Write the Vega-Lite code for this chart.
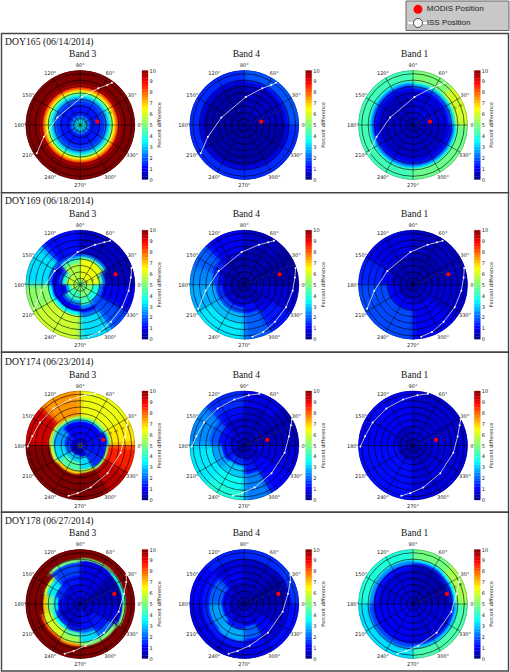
{"$schema":"https://vega.github.io/schema/vega-lite/v6.json","width":510,"height":672,"padding":0,"autosize":{"type":"fit","contains":"padding"},"background":"white","config":{"view":{"stroke":null}},
"params":[{"name":"CX","expr":"{'3':80.3,'4':244.3,'1':413}"},{"name":"CY","expr":"{'165':124,'169':283.7,'174':444.5,'178':603}"},{"name":"BX","expr":"{'3':142,'4':305.7,'1':474.3}"},{"name":"TX","expr":"{'3':82.7,'4':246.3,'1':414.7}"},{"name":"FT","expr":"{'165':32.5,'169':191.7,'174':351.3,'178':511.3}"},{"name":"FB","expr":"{'165':191.7,'169':351.3,'174':511.3,'178':670}"},{"name":"KR","expr":"54.5/85"}],
"encoding":{"x":{"field":"px","type":"quantitative","scale":{"domain":[0,510],"range":[0,510],"nice":false,"zero":false},"axis":null},"y":{"field":"py","type":"quantitative","scale":{"domain":[0,672],"range":[0,672],"nice":false,"zero":false},"axis":null}},
"datasets":{
"cbar":[{"v":0,"v2":0.25},{"v":0.25,"v2":0.5},{"v":0.5,"v2":0.75},{"v":0.75,"v2":1},{"v":1,"v2":1.25},{"v":1.25,"v2":1.5},{"v":1.5,"v2":1.75},{"v":1.75,"v2":2},{"v":2,"v2":2.25},{"v":2.25,"v2":2.5},{"v":2.5,"v2":2.75},{"v":2.75,"v2":3},{"v":3,"v2":3.25},{"v":3.25,"v2":3.5},{"v":3.5,"v2":3.75},{"v":3.75,"v2":4},{"v":4,"v2":4.25},{"v":4.25,"v2":4.5},{"v":4.5,"v2":4.75},{"v":4.75,"v2":5},{"v":5,"v2":5.25},{"v":5.25,"v2":5.5},{"v":5.5,"v2":5.75},{"v":5.75,"v2":6},{"v":6,"v2":6.25},{"v":6.25,"v2":6.5},{"v":6.5,"v2":6.75},{"v":6.75,"v2":7},{"v":7,"v2":7.25},{"v":7.25,"v2":7.5},{"v":7.5,"v2":7.75},{"v":7.75,"v2":8},{"v":8,"v2":8.25},{"v":8.25,"v2":8.5},{"v":8.5,"v2":8.75},{"v":8.75,"v2":9},{"v":9,"v2":9.25},{"v":9.25,"v2":9.5},{"v":9.5,"v2":9.75},{"v":9.75,"v2":10}],
"iss":[
{"d":165,"t":1,"i":1,"a":213,"r":81},{"d":165,"t":1,"i":2,"a":198,"r":59.7},{"d":165,"t":1,"i":3,"a":162,"r":37.6},{"d":165,"t":1,"i":4,"a":87,"r":43.7},{"d":165,"t":1,"i":5,"a":63.9,"r":63.7},{"d":165,"t":1,"i":6,"a":56,"r":75.3},{"d":165,"t":1,"i":7,"a":53.2,"r":82.4},
{"d":169,"t":1,"i":1,"a":207.6,"r":80.9},{"d":169,"t":1,"i":2,"a":188.8,"r":61},{"d":169,"t":1,"i":3,"a":152,"r":45.3},{"d":169,"t":1,"i":4,"a":94.7,"r":51},{"d":169,"t":1,"i":5,"a":69.9,"r":66.4},{"d":169,"t":1,"i":6,"a":60.5,"r":75.9},{"d":169,"t":1,"i":7,"a":56,"r":82.7},
{"d":169,"t":2,"i":1,"a":18,"r":84},{"d":169,"t":2,"i":2,"a":8.2,"r":79.8},{"d":169,"t":2,"i":3,"a":352.9,"r":76},{"d":169,"t":2,"i":4,"a":331.5,"r":74},{"d":169,"t":2,"i":5,"a":309.7,"r":75},{"d":169,"t":2,"i":6,"a":291.9,"r":79.5},{"d":169,"t":2,"i":7,"a":279,"r":82},
{"d":174,"t":1,"i":1,"a":181,"r":82},{"d":174,"t":1,"i":2,"a":169,"r":76.2},{"d":174,"t":1,"i":3,"a":150.3,"r":72.4},{"d":174,"t":1,"i":4,"a":125.8,"r":71.1},{"d":174,"t":1,"i":5,"a":102.3,"r":73.4},{"d":174,"t":1,"i":6,"a":85,"r":78.8},{"d":174,"t":1,"i":7,"a":73.8,"r":83.9},
{"d":174,"t":2,"i":1,"a":256.9,"r":80.6},{"d":174,"t":2,"i":2,"a":266.8,"r":74.4},{"d":174,"t":2,"i":3,"a":283.8,"r":67.4},{"d":174,"t":2,"i":4,"a":314.6,"r":60.6},{"d":174,"t":2,"i":5,"a":349.7,"r":63.9},{"d":174,"t":2,"i":6,"a":11.4,"r":71},{"d":174,"t":2,"i":7,"a":23.5,"r":79.3},{"d":174,"t":2,"i":8,"a":28.9,"r":85},
{"d":178,"t":1,"i":1,"a":32.4,"r":85},{"d":178,"t":1,"i":2,"a":25.6,"r":79.5},{"d":178,"t":1,"i":3,"a":13.3,"r":70},{"d":178,"t":1,"i":4,"a":348.7,"r":61},{"d":178,"t":1,"i":5,"a":309.5,"r":58},{"d":178,"t":1,"i":6,"a":277.3,"r":65.5},{"d":178,"t":1,"i":7,"a":261.9,"r":74},{"d":178,"t":1,"i":8,"a":252.5,"r":81.2}],
"modis":[{"d":165,"a":11,"r":27},{"d":169,"a":16.3,"r":57.4},{"d":174,"a":13.9,"r":37},{"d":178,"a":16.4,"r":55.3}],
"heat":[
{"d":165,"b":3,"a":0,"a2":360,"r":0,"r2":6,"v":3.7},{"d":165,"b":3,"a":0,"a2":360,"r":6,"r2":10,"v":3},{"d":165,"b":3,"a":0,"a2":360,"r":10,"r2":15,"v":2.2},{"d":165,"b":3,"a":0,"a2":360,"r":15,"r2":32,"v":1.3},{"d":165,"b":3,"a":0,"a2":360,"r":32,"r2":38,"v":1.6},{"d":165,"b":3,"a":0,"a2":360,"r":38,"r2":42,"v":2.2},{"d":165,"b":3,"a":0,"a2":360,"r":42,"r2":45,"v":3},{"d":165,"b":3,"a":0,"a2":360,"r":45,"r2":48,"v":4},{"d":165,"b":3,"a":0,"a2":360,"r":48,"r2":51,"v":5},{"d":165,"b":3,"a":0,"a2":360,"r":51,"r2":54,"v":6.3},{"d":165,"b":3,"a":0,"a2":360,"r":54,"r2":57,"v":7.5},{"d":165,"b":3,"a":0,"a2":360,"r":57,"r2":60,"v":8.5},{"d":165,"b":3,"a":0,"a2":360,"r":60,"r2":63,"v":9.5},{"d":165,"b":3,"a":0,"a2":360,"r":63,"r2":85,"v":10},
{"d":165,"b":4,"a":0,"a2":90,"r":0,"r2":62,"v":0.55},{"d":165,"b":4,"a":0,"a2":90,"r":62,"r2":66,"v":0.8},{"d":165,"b":4,"a":0,"a2":90,"r":66,"r2":70,"v":1.3},{"d":165,"b":4,"a":0,"a2":90,"r":70,"r2":85,"v":1.9},{"d":165,"b":4,"a":90,"a2":360,"r":0,"r2":60,"v":0.35},{"d":165,"b":4,"a":90,"a2":360,"r":60,"r2":65,"v":0.5},{"d":165,"b":4,"a":90,"a2":360,"r":65,"r2":70,"v":0.9},{"d":165,"b":4,"a":90,"a2":360,"r":70,"r2":85,"v":1.5},{"d":165,"b":4,"a":0,"a2":360,"r":0,"r2":6,"v":1},
{"d":165,"b":1,"a":0,"a2":45,"r":0,"r2":50,"v":0.8},{"d":165,"b":1,"a":0,"a2":45,"r":50,"r2":56,"v":1.1},{"d":165,"b":1,"a":0,"a2":45,"r":56,"r2":60,"v":1.7},{"d":165,"b":1,"a":0,"a2":45,"r":60,"r2":64,"v":2.8},{"d":165,"b":1,"a":0,"a2":45,"r":64,"r2":67,"v":4},{"d":165,"b":1,"a":0,"a2":45,"r":67,"r2":85,"v":6},
{"d":165,"b":1,"a":45,"a2":90,"r":0,"r2":50,"v":0.8},{"d":165,"b":1,"a":45,"a2":90,"r":50,"r2":56,"v":1.1},{"d":165,"b":1,"a":45,"a2":90,"r":56,"r2":60,"v":1.7},{"d":165,"b":1,"a":45,"a2":90,"r":60,"r2":64,"v":2.8},{"d":165,"b":1,"a":45,"a2":90,"r":64,"r2":67,"v":4},{"d":165,"b":1,"a":45,"a2":90,"r":67,"r2":85,"v":5},
{"d":165,"b":1,"a":90,"a2":270,"r":0,"r2":50,"v":0.6},{"d":165,"b":1,"a":90,"a2":270,"r":50,"r2":58,"v":0.9},{"d":165,"b":1,"a":90,"a2":270,"r":58,"r2":62,"v":1.4},{"d":165,"b":1,"a":90,"a2":270,"r":62,"r2":65,"v":2.2},{"d":165,"b":1,"a":90,"a2":270,"r":65,"r2":68,"v":3.2},{"d":165,"b":1,"a":90,"a2":270,"r":68,"r2":85,"v":4.3},
{"d":165,"b":1,"a":270,"a2":360,"r":0,"r2":50,"v":0.6},{"d":165,"b":1,"a":270,"a2":360,"r":50,"r2":58,"v":0.9},{"d":165,"b":1,"a":270,"a2":360,"r":58,"r2":62,"v":1.4},{"d":165,"b":1,"a":270,"a2":360,"r":62,"r2":65,"v":2.2},{"d":165,"b":1,"a":270,"a2":360,"r":65,"r2":68,"v":3.4},{"d":165,"b":1,"a":270,"a2":360,"r":68,"r2":85,"v":4.8},
{"d":169,"b":3,"a":0,"a2":30,"r":0,"r2":8,"v":4.5},{"d":169,"b":3,"a":0,"a2":30,"r":8,"r2":30,"v":6.2},{"d":169,"b":3,"a":0,"a2":30,"r":30,"r2":35,"v":4.5},{"d":169,"b":3,"a":0,"a2":30,"r":35,"r2":40,"v":2.2},{"d":169,"b":3,"a":0,"a2":30,"r":40,"r2":85,"v":0.5},
{"d":169,"b":3,"a":30,"a2":90,"r":0,"r2":8,"v":5},{"d":169,"b":3,"a":30,"a2":90,"r":8,"r2":40,"v":6.3},{"d":169,"b":3,"a":30,"a2":90,"r":40,"r2":44,"v":4.5},{"d":169,"b":3,"a":30,"a2":90,"r":44,"r2":48,"v":2.2},{"d":169,"b":3,"a":30,"a2":90,"r":48,"r2":85,"v":0.6},
{"d":169,"b":3,"a":90,"a2":135,"r":0,"r2":8,"v":5},{"d":169,"b":3,"a":90,"a2":135,"r":8,"r2":34,"v":5.6},{"d":169,"b":3,"a":90,"a2":135,"r":34,"r2":40,"v":4.5},{"d":169,"b":3,"a":90,"a2":135,"r":40,"r2":45,"v":2.8},{"d":169,"b":3,"a":90,"a2":135,"r":45,"r2":50,"v":1.5},{"d":169,"b":3,"a":90,"a2":135,"r":50,"r2":85,"v":1.2},
{"d":169,"b":3,"a":135,"a2":180,"r":0,"r2":6,"v":4.5},{"d":169,"b":3,"a":135,"a2":180,"r":6,"r2":22,"v":5.8},{"d":169,"b":3,"a":135,"a2":180,"r":22,"r2":28,"v":4},{"d":169,"b":3,"a":135,"a2":180,"r":28,"r2":34,"v":1.8},{"d":169,"b":3,"a":135,"a2":180,"r":34,"r2":45,"v":0.9},{"d":169,"b":3,"a":135,"a2":180,"r":45,"r2":50,"v":2},{"d":169,"b":3,"a":135,"a2":180,"r":50,"r2":85,"v":3.2},
{"d":169,"b":3,"a":180,"a2":210,"r":0,"r2":15,"v":5.6},{"d":169,"b":3,"a":180,"a2":210,"r":15,"r2":22,"v":3.5},{"d":169,"b":3,"a":180,"a2":210,"r":22,"r2":38,"v":1},{"d":169,"b":3,"a":180,"a2":210,"r":38,"r2":44,"v":1.2},{"d":169,"b":3,"a":180,"a2":210,"r":44,"r2":50,"v":3.5},{"d":169,"b":3,"a":180,"a2":210,"r":50,"r2":85,"v":5.2},
{"d":169,"b":3,"a":210,"a2":270,"r":0,"r2":12,"v":5},{"d":169,"b":3,"a":210,"a2":270,"r":12,"r2":25,"v":4.2},{"d":169,"b":3,"a":210,"a2":270,"r":25,"r2":32,"v":2.5},{"d":169,"b":3,"a":210,"a2":270,"r":32,"r2":42,"v":1},{"d":169,"b":3,"a":210,"a2":270,"r":42,"r2":48,"v":3.5},{"d":169,"b":3,"a":210,"a2":270,"r":48,"r2":85,"v":5.9},
{"d":169,"b":3,"a":270,"a2":305,"r":0,"r2":20,"v":5},{"d":169,"b":3,"a":270,"a2":305,"r":20,"r2":32,"v":4.3},{"d":169,"b":3,"a":270,"a2":305,"r":32,"r2":38,"v":2.5},{"d":169,"b":3,"a":270,"a2":305,"r":38,"r2":44,"v":1.2},{"d":169,"b":3,"a":270,"a2":305,"r":44,"r2":50,"v":2.2},{"d":169,"b":3,"a":270,"a2":305,"r":50,"r2":85,"v":3.2},
{"d":169,"b":3,"a":305,"a2":330,"r":0,"r2":20,"v":5},{"d":169,"b":3,"a":305,"a2":330,"r":20,"r2":30,"v":3.8},{"d":169,"b":3,"a":305,"a2":330,"r":30,"r2":36,"v":2},{"d":169,"b":3,"a":305,"a2":330,"r":36,"r2":85,"v":1.8},
{"d":169,"b":3,"a":330,"a2":360,"r":0,"r2":20,"v":5},{"d":169,"b":3,"a":330,"a2":360,"r":20,"r2":30,"v":3.8},{"d":169,"b":3,"a":330,"a2":360,"r":30,"r2":36,"v":2},{"d":169,"b":3,"a":330,"a2":360,"r":36,"r2":85,"v":1},
{"d":169,"b":4,"a":0,"a2":45,"r":0,"r2":85,"v":0.35},{"d":169,"b":4,"a":45,"a2":90,"r":0,"r2":60,"v":0.4},{"d":169,"b":4,"a":45,"a2":90,"r":60,"r2":85,"v":0.6},{"d":169,"b":4,"a":90,"a2":135,"r":0,"r2":45,"v":0.4},{"d":169,"b":4,"a":90,"a2":135,"r":45,"r2":55,"v":0.8},{"d":169,"b":4,"a":90,"a2":135,"r":55,"r2":85,"v":1},
{"d":169,"b":4,"a":135,"a2":160,"r":0,"r2":35,"v":0.4},{"d":169,"b":4,"a":135,"a2":160,"r":35,"r2":45,"v":0.8},{"d":169,"b":4,"a":135,"a2":160,"r":45,"r2":55,"v":1.5},{"d":169,"b":4,"a":135,"a2":160,"r":55,"r2":85,"v":2},
{"d":169,"b":4,"a":160,"a2":180,"r":0,"r2":30,"v":0.4},{"d":169,"b":4,"a":160,"a2":180,"r":30,"r2":40,"v":0.8},{"d":169,"b":4,"a":160,"a2":180,"r":40,"r2":50,"v":1.6},{"d":169,"b":4,"a":160,"a2":180,"r":50,"r2":85,"v":2.4},
{"d":169,"b":4,"a":180,"a2":210,"r":0,"r2":25,"v":0.5},{"d":169,"b":4,"a":180,"a2":210,"r":25,"r2":35,"v":0.9},{"d":169,"b":4,"a":180,"a2":210,"r":35,"r2":45,"v":1.6},{"d":169,"b":4,"a":180,"a2":210,"r":45,"r2":85,"v":2.7},
{"d":169,"b":4,"a":210,"a2":270,"r":0,"r2":25,"v":0.5},{"d":169,"b":4,"a":210,"a2":270,"r":25,"r2":35,"v":0.9},{"d":169,"b":4,"a":210,"a2":270,"r":35,"r2":45,"v":1.8},{"d":169,"b":4,"a":210,"a2":270,"r":45,"r2":60,"v":2.9},{"d":169,"b":4,"a":210,"a2":270,"r":60,"r2":85,"v":3.3},
{"d":169,"b":4,"a":270,"a2":300,"r":0,"r2":30,"v":0.6},{"d":169,"b":4,"a":270,"a2":300,"r":30,"r2":45,"v":1.2},{"d":169,"b":4,"a":270,"a2":300,"r":45,"r2":85,"v":2},{"d":169,"b":4,"a":300,"a2":330,"r":0,"r2":35,"v":0.5},{"d":169,"b":4,"a":300,"a2":330,"r":35,"r2":50,"v":0.9},{"d":169,"b":4,"a":300,"a2":330,"r":50,"r2":85,"v":1.3},{"d":169,"b":4,"a":330,"a2":360,"r":0,"r2":85,"v":0.7},
{"d":169,"b":1,"a":0,"a2":90,"r":0,"r2":50,"v":0.4},{"d":169,"b":1,"a":0,"a2":90,"r":50,"r2":85,"v":0.55},{"d":169,"b":1,"a":90,"a2":150,"r":0,"r2":45,"v":0.5},{"d":169,"b":1,"a":90,"a2":150,"r":45,"r2":85,"v":0.9},{"d":169,"b":1,"a":150,"a2":180,"r":0,"r2":35,"v":0.5},{"d":169,"b":1,"a":150,"a2":180,"r":35,"r2":50,"v":1},{"d":169,"b":1,"a":150,"a2":180,"r":50,"r2":85,"v":1.4},{"d":169,"b":1,"a":180,"a2":270,"r":0,"r2":25,"v":0.6},{"d":169,"b":1,"a":180,"a2":270,"r":25,"r2":40,"v":1.1},{"d":169,"b":1,"a":180,"a2":270,"r":40,"r2":85,"v":1.8},{"d":169,"b":1,"a":270,"a2":320,"r":0,"r2":30,"v":0.6},{"d":169,"b":1,"a":270,"a2":320,"r":30,"r2":85,"v":1},{"d":169,"b":1,"a":320,"a2":360,"r":0,"r2":85,"v":0.7},
{"d":174,"b":3,"a":0,"a2":30,"r":0,"r2":12,"v":1},{"d":174,"b":3,"a":0,"a2":30,"r":12,"r2":42,"v":1.2},{"d":174,"b":3,"a":0,"a2":30,"r":42,"r2":45,"v":3},{"d":174,"b":3,"a":0,"a2":30,"r":45,"r2":48,"v":5.5},{"d":174,"b":3,"a":0,"a2":30,"r":48,"r2":85,"v":6.7},
{"d":174,"b":3,"a":30,"a2":90,"r":0,"r2":12,"v":1},{"d":174,"b":3,"a":30,"a2":90,"r":12,"r2":38,"v":1.1},{"d":174,"b":3,"a":30,"a2":90,"r":38,"r2":41,"v":3},{"d":174,"b":3,"a":30,"a2":90,"r":41,"r2":45,"v":5},{"d":174,"b":3,"a":30,"a2":90,"r":45,"r2":85,"v":6.3},
{"d":174,"b":3,"a":90,"a2":135,"r":0,"r2":38,"v":1.1},{"d":174,"b":3,"a":90,"a2":135,"r":38,"r2":42,"v":3},{"d":174,"b":3,"a":90,"a2":135,"r":42,"r2":46,"v":5.5},{"d":174,"b":3,"a":90,"a2":135,"r":46,"r2":85,"v":7.5},
{"d":174,"b":3,"a":135,"a2":180,"r":0,"r2":15,"v":0.9},{"d":174,"b":3,"a":135,"a2":180,"r":15,"r2":25,"v":1.5},{"d":174,"b":3,"a":135,"a2":180,"r":25,"r2":42,"v":2.6},{"d":174,"b":3,"a":135,"a2":180,"r":42,"r2":46,"v":4.5},{"d":174,"b":3,"a":135,"a2":180,"r":46,"r2":50,"v":7},{"d":174,"b":3,"a":135,"a2":180,"r":50,"r2":85,"v":9.3},
{"d":174,"b":3,"a":180,"a2":215,"r":0,"r2":16,"v":0.7},{"d":174,"b":3,"a":180,"a2":215,"r":16,"r2":24,"v":2},{"d":174,"b":3,"a":180,"a2":215,"r":24,"r2":42,"v":3.2},{"d":174,"b":3,"a":180,"a2":215,"r":42,"r2":47,"v":6},{"d":174,"b":3,"a":180,"a2":215,"r":47,"r2":85,"v":10},
{"d":174,"b":3,"a":215,"a2":270,"r":0,"r2":16,"v":0.7},{"d":174,"b":3,"a":215,"a2":270,"r":16,"r2":26,"v":3},{"d":174,"b":3,"a":215,"a2":270,"r":26,"r2":40,"v":4.5},{"d":174,"b":3,"a":215,"a2":270,"r":40,"r2":45,"v":7},{"d":174,"b":3,"a":215,"a2":270,"r":45,"r2":85,"v":10},
{"d":174,"b":3,"a":270,"a2":300,"r":0,"r2":18,"v":0.9},{"d":174,"b":3,"a":270,"a2":300,"r":18,"r2":38,"v":3.2},{"d":174,"b":3,"a":270,"a2":300,"r":38,"r2":43,"v":6},{"d":174,"b":3,"a":270,"a2":300,"r":43,"r2":85,"v":10},
{"d":174,"b":3,"a":300,"a2":330,"r":0,"r2":40,"v":1.5},{"d":174,"b":3,"a":300,"a2":330,"r":40,"r2":44,"v":5},{"d":174,"b":3,"a":300,"a2":330,"r":44,"r2":85,"v":9.5},{"d":174,"b":3,"a":330,"a2":360,"r":0,"r2":40,"v":1.3},{"d":174,"b":3,"a":330,"a2":360,"r":40,"r2":44,"v":5},{"d":174,"b":3,"a":330,"a2":360,"r":44,"r2":85,"v":8.6},{"d":174,"b":3,"a":0,"a2":360,"r":0,"r2":3,"v":6},
{"d":174,"b":4,"a":0,"a2":45,"r":0,"r2":85,"v":0.5},{"d":174,"b":4,"a":45,"a2":90,"r":0,"r2":60,"v":0.6},{"d":174,"b":4,"a":45,"a2":90,"r":60,"r2":85,"v":0.9},{"d":174,"b":4,"a":90,"a2":135,"r":0,"r2":45,"v":0.7},{"d":174,"b":4,"a":90,"a2":135,"r":45,"r2":60,"v":1.2},{"d":174,"b":4,"a":90,"a2":135,"r":60,"r2":85,"v":1.5},
{"d":174,"b":4,"a":135,"a2":180,"r":0,"r2":25,"v":0.7},{"d":174,"b":4,"a":135,"a2":180,"r":25,"r2":40,"v":1.2},{"d":174,"b":4,"a":135,"a2":180,"r":40,"r2":55,"v":1.9},{"d":174,"b":4,"a":135,"a2":180,"r":55,"r2":85,"v":2.4},
{"d":174,"b":4,"a":180,"a2":225,"r":0,"r2":20,"v":0.6},{"d":174,"b":4,"a":180,"a2":225,"r":20,"r2":35,"v":1.3},{"d":174,"b":4,"a":180,"a2":225,"r":35,"r2":50,"v":2.6},{"d":174,"b":4,"a":180,"a2":225,"r":50,"r2":85,"v":3.3},
{"d":174,"b":4,"a":225,"a2":270,"r":0,"r2":20,"v":0.6},{"d":174,"b":4,"a":225,"a2":270,"r":20,"r2":32,"v":1.5},{"d":174,"b":4,"a":225,"a2":270,"r":32,"r2":50,"v":3},{"d":174,"b":4,"a":225,"a2":270,"r":50,"r2":70,"v":3.6},{"d":174,"b":4,"a":225,"a2":270,"r":70,"r2":85,"v":3.9},
{"d":174,"b":4,"a":270,"a2":300,"r":0,"r2":25,"v":0.7},{"d":174,"b":4,"a":270,"a2":300,"r":25,"r2":45,"v":1.3},{"d":174,"b":4,"a":270,"a2":300,"r":45,"r2":85,"v":2.3},{"d":174,"b":4,"a":300,"a2":330,"r":0,"r2":30,"v":0.7},{"d":174,"b":4,"a":300,"a2":330,"r":30,"r2":85,"v":1.1},{"d":174,"b":4,"a":330,"a2":360,"r":0,"r2":85,"v":0.8},
{"d":174,"b":1,"a":0,"a2":90,"r":0,"r2":85,"v":0.7},{"d":174,"b":1,"a":90,"a2":180,"r":0,"r2":30,"v":0.6},{"d":174,"b":1,"a":90,"a2":180,"r":30,"r2":85,"v":1},{"d":174,"b":1,"a":180,"a2":270,"r":0,"r2":25,"v":0.6},{"d":174,"b":1,"a":180,"a2":270,"r":25,"r2":85,"v":1.2},{"d":174,"b":1,"a":270,"a2":360,"r":0,"r2":30,"v":0.6},{"d":174,"b":1,"a":270,"a2":360,"r":30,"r2":85,"v":0.8},
{"d":178,"b":3,"a":0,"a2":45,"r":0,"r2":66,"v":0.45},{"d":178,"b":3,"a":0,"a2":45,"r":66,"r2":71,"v":4},{"d":178,"b":3,"a":0,"a2":45,"r":71,"r2":85,"v":10},
{"d":178,"b":3,"a":45,"a2":90,"r":0,"r2":68,"v":0.9},{"d":178,"b":3,"a":45,"a2":90,"r":68,"r2":72,"v":5},{"d":178,"b":3,"a":45,"a2":90,"r":72,"r2":85,"v":10},
{"d":178,"b":3,"a":90,"a2":135,"r":0,"r2":30,"v":0.9},{"d":178,"b":3,"a":90,"a2":135,"r":30,"r2":45,"v":1.3},{"d":178,"b":3,"a":90,"a2":135,"r":45,"r2":65,"v":1.7},{"d":178,"b":3,"a":90,"a2":135,"r":65,"r2":70,"v":5},{"d":178,"b":3,"a":90,"a2":135,"r":70,"r2":85,"v":10},
{"d":178,"b":3,"a":135,"a2":165,"r":0,"r2":28,"v":0.8},{"d":178,"b":3,"a":135,"a2":165,"r":28,"r2":40,"v":1.5},{"d":178,"b":3,"a":135,"a2":165,"r":40,"r2":55,"v":3.3},{"d":178,"b":3,"a":135,"a2":165,"r":55,"r2":60,"v":6},{"d":178,"b":3,"a":135,"a2":165,"r":60,"r2":85,"v":10},
{"d":178,"b":3,"a":165,"a2":195,"r":0,"r2":28,"v":0.8},{"d":178,"b":3,"a":165,"a2":195,"r":28,"r2":35,"v":1.2},{"d":178,"b":3,"a":165,"a2":195,"r":35,"r2":42,"v":3.2},{"d":178,"b":3,"a":165,"a2":195,"r":42,"r2":52,"v":4.8},{"d":178,"b":3,"a":165,"a2":195,"r":52,"r2":58,"v":7},{"d":178,"b":3,"a":165,"a2":195,"r":58,"r2":85,"v":10},
{"d":178,"b":3,"a":195,"a2":240,"r":0,"r2":35,"v":0.7},{"d":178,"b":3,"a":195,"a2":240,"r":35,"r2":40,"v":1.5},{"d":178,"b":3,"a":195,"a2":240,"r":40,"r2":46,"v":3.5},{"d":178,"b":3,"a":195,"a2":240,"r":46,"r2":60,"v":6},{"d":178,"b":3,"a":195,"a2":240,"r":60,"r2":64,"v":8},{"d":178,"b":3,"a":195,"a2":240,"r":64,"r2":85,"v":10},
{"d":178,"b":3,"a":240,"a2":270,"r":0,"r2":38,"v":0.7},{"d":178,"b":3,"a":240,"a2":270,"r":38,"r2":44,"v":1.5},{"d":178,"b":3,"a":240,"a2":270,"r":44,"r2":52,"v":4.5},{"d":178,"b":3,"a":240,"a2":270,"r":52,"r2":62,"v":5.5},{"d":178,"b":3,"a":240,"a2":270,"r":62,"r2":66,"v":7.5},{"d":178,"b":3,"a":240,"a2":270,"r":66,"r2":85,"v":10},
{"d":178,"b":3,"a":270,"a2":300,"r":0,"r2":40,"v":1.2},{"d":178,"b":3,"a":270,"a2":300,"r":40,"r2":46,"v":2},{"d":178,"b":3,"a":270,"a2":300,"r":46,"r2":60,"v":3.2},{"d":178,"b":3,"a":270,"a2":300,"r":60,"r2":66,"v":5},{"d":178,"b":3,"a":270,"a2":300,"r":66,"r2":85,"v":10},
{"d":178,"b":3,"a":300,"a2":330,"r":0,"r2":25,"v":0.7},{"d":178,"b":3,"a":300,"a2":330,"r":25,"r2":50,"v":1.3},{"d":178,"b":3,"a":300,"a2":330,"r":50,"r2":60,"v":2},{"d":178,"b":3,"a":300,"a2":330,"r":60,"r2":66,"v":5},{"d":178,"b":3,"a":300,"a2":330,"r":66,"r2":85,"v":10},
{"d":178,"b":3,"a":330,"a2":360,"r":0,"r2":66,"v":0.8},{"d":178,"b":3,"a":330,"a2":360,"r":66,"r2":71,"v":5},{"d":178,"b":3,"a":330,"a2":360,"r":71,"r2":85,"v":10},
{"d":178,"b":4,"a":0,"a2":45,"r":0,"r2":68,"v":0.35},{"d":178,"b":4,"a":0,"a2":45,"r":68,"r2":73,"v":0.9},{"d":178,"b":4,"a":0,"a2":45,"r":73,"r2":85,"v":1.6},
{"d":178,"b":4,"a":45,"a2":90,"r":0,"r2":70,"v":0.6},{"d":178,"b":4,"a":45,"a2":90,"r":70,"r2":85,"v":1.5},
{"d":178,"b":4,"a":90,"a2":135,"r":0,"r2":35,"v":0.6},{"d":178,"b":4,"a":90,"a2":135,"r":35,"r2":55,"v":1},{"d":178,"b":4,"a":90,"a2":135,"r":55,"r2":70,"v":0.8},{"d":178,"b":4,"a":90,"a2":135,"r":70,"r2":85,"v":1.4},
{"d":178,"b":4,"a":135,"a2":180,"r":0,"r2":25,"v":0.6},{"d":178,"b":4,"a":135,"a2":180,"r":25,"r2":35,"v":1},{"d":178,"b":4,"a":135,"a2":180,"r":35,"r2":55,"v":2},{"d":178,"b":4,"a":135,"a2":180,"r":55,"r2":65,"v":1.3},{"d":178,"b":4,"a":135,"a2":180,"r":65,"r2":85,"v":1.1},
{"d":178,"b":4,"a":180,"a2":225,"r":0,"r2":25,"v":0.6},{"d":178,"b":4,"a":180,"a2":225,"r":25,"r2":35,"v":1.2},{"d":178,"b":4,"a":180,"a2":225,"r":35,"r2":55,"v":2.6},{"d":178,"b":4,"a":180,"a2":225,"r":55,"r2":65,"v":1.4},{"d":178,"b":4,"a":180,"a2":225,"r":65,"r2":85,"v":0.9},
{"d":178,"b":4,"a":225,"a2":270,"r":0,"r2":30,"v":0.7},{"d":178,"b":4,"a":225,"a2":270,"r":30,"r2":40,"v":1.3},{"d":178,"b":4,"a":225,"a2":270,"r":40,"r2":58,"v":2.7},{"d":178,"b":4,"a":225,"a2":270,"r":58,"r2":68,"v":1.3},{"d":178,"b":4,"a":225,"a2":270,"r":68,"r2":85,"v":0.8},
{"d":178,"b":4,"a":270,"a2":300,"r":0,"r2":35,"v":0.9},{"d":178,"b":4,"a":270,"a2":300,"r":35,"r2":55,"v":2},{"d":178,"b":4,"a":270,"a2":300,"r":55,"r2":68,"v":1.2},{"d":178,"b":4,"a":270,"a2":300,"r":68,"r2":85,"v":0.9},
{"d":178,"b":4,"a":300,"a2":330,"r":0,"r2":30,"v":0.7},{"d":178,"b":4,"a":300,"a2":330,"r":30,"r2":55,"v":1.1},{"d":178,"b":4,"a":300,"a2":330,"r":55,"r2":70,"v":0.7},{"d":178,"b":4,"a":300,"a2":330,"r":70,"r2":85,"v":1.2},
{"d":178,"b":4,"a":330,"a2":360,"r":0,"r2":68,"v":0.6},{"d":178,"b":4,"a":330,"a2":360,"r":68,"r2":85,"v":1.2},
{"d":178,"b":1,"a":0,"a2":45,"r":0,"r2":58,"v":0.4},{"d":178,"b":1,"a":0,"a2":45,"r":58,"r2":64,"v":1.5},{"d":178,"b":1,"a":0,"a2":45,"r":64,"r2":68,"v":3.5},{"d":178,"b":1,"a":0,"a2":45,"r":68,"r2":85,"v":5.5},
{"d":178,"b":1,"a":45,"a2":90,"r":0,"r2":60,"v":0.5},{"d":178,"b":1,"a":45,"a2":90,"r":60,"r2":65,"v":1.5},{"d":178,"b":1,"a":45,"a2":90,"r":65,"r2":69,"v":3.3},{"d":178,"b":1,"a":45,"a2":90,"r":69,"r2":85,"v":4.9},
{"d":178,"b":1,"a":90,"a2":180,"r":0,"r2":55,"v":0.8},{"d":178,"b":1,"a":90,"a2":180,"r":55,"r2":62,"v":1.2},{"d":178,"b":1,"a":90,"a2":180,"r":62,"r2":68,"v":2.5},{"d":178,"b":1,"a":90,"a2":180,"r":68,"r2":85,"v":3.9},
{"d":178,"b":1,"a":180,"a2":270,"r":0,"r2":62,"v":1},{"d":178,"b":1,"a":180,"a2":270,"r":62,"r2":68,"v":1.8},{"d":178,"b":1,"a":180,"a2":270,"r":68,"r2":72,"v":2.7},{"d":178,"b":1,"a":180,"a2":270,"r":72,"r2":85,"v":3.2},
{"d":178,"b":1,"a":270,"a2":360,"r":0,"r2":60,"v":0.8},{"d":178,"b":1,"a":270,"a2":360,"r":60,"r2":65,"v":1.5},{"d":178,"b":1,"a":270,"a2":360,"r":65,"r2":70,"v":3},{"d":178,"b":1,"a":270,"a2":360,"r":70,"r2":85,"v":4.4}
]},
"layer":[
{"data":{"values":[{"d":165},{"d":169},{"d":174},{"d":178}]},"transform":[{"calculate":"1.5","as":"px"},{"calculate":"508.5","as":"px2"},{"calculate":"FT[datum.d]","as":"py"},{"calculate":"FB[datum.d]","as":"py2"}],"mark":{"type":"rect","fill":"white","stroke":"#444444","strokeWidth":1.4},"encoding":{"x2":{"field":"px2"},"y2":{"field":"py2"}}},
{"data":{"name":"heat"},"transform":[{"calculate":"CX[datum.b]","as":"px"},{"calculate":"CY[datum.d]","as":"py"}],"mark":{"type":"arc","strokeWidth":0.3},"encoding":{"theta":{"field":"a","type":"quantitative","stack":null,"scale":{"domain":[0,360],"range":[1.5708,-4.7124]}},"theta2":{"field":"a2"},"radius":{"field":"r2","type":"quantitative","scale":{"type":"linear","domain":[0,85],"range":[0,54.5]}},"radius2":{"field":"r"},"fill":{"field":"v","type":"quantitative","legend":null,"scale":{"domain":[0,1.1,3.5,5,6.5,8.9,10],"range":["#00007f","#0000ff","#00ffff","#7dff7a","#ffff00","#ff0000","#7f0000"],"interpolate":"rgb"}},"stroke":{"field":"v","type":"quantitative","legend":null,"scale":{"domain":[0,1.1,3.5,5,6.5,8.9,10],"range":["#00007f","#0000ff","#00ffff","#7dff7a","#ffff00","#ff0000","#7f0000"],"interpolate":"rgb"}}}},
{"data":{"name":"heat"},"transform":[{"calculate":"CX[datum.b]","as":"px"},{"calculate":"CY[datum.d]","as":"py"},{"calculate":"datum.a+5","as":"ta"},{"calculate":"datum.a2+5","as":"tb"}],"mark":{"type":"arc","opacity":0.5},"encoding":{"theta":{"field":"ta","type":"quantitative","stack":null,"scale":{"domain":[0,360],"range":[1.5708,-4.7124]}},"theta2":{"field":"tb"},"radius":{"field":"r2","type":"quantitative","scale":{"type":"linear","domain":[0,85],"range":[0,54.5]}},"radius2":{"field":"r"},"fill":{"field":"v","type":"quantitative","legend":null}}},
{"data":{"name":"heat"},"transform":[{"calculate":"CX[datum.b]","as":"px"},{"calculate":"CY[datum.d]","as":"py"},{"calculate":"datum.a-5","as":"ta"},{"calculate":"datum.a2-5","as":"tb"}],"mark":{"type":"arc","opacity":0.33},"encoding":{"theta":{"field":"ta","type":"quantitative","stack":null,"scale":{"domain":[0,360],"range":[1.5708,-4.7124]}},"theta2":{"field":"tb"},"radius":{"field":"r2","type":"quantitative","scale":{"type":"linear","domain":[0,85],"range":[0,54.5]}},"radius2":{"field":"r"},"fill":{"field":"v","type":"quantitative","legend":null}}},
{"data":{"name":"heat"},"transform":[{"calculate":"CX[datum.b]","as":"px"},{"calculate":"CY[datum.d]","as":"py"},{"calculate":"datum.r===0?0:datum.r+1.5","as":"ri"},{"calculate":"datum.r2===85?85:datum.r2+1.5","as":"ro"}],"mark":{"type":"arc","opacity":0.25},"encoding":{"theta":{"field":"a","type":"quantitative","stack":null,"scale":{"domain":[0,360],"range":[1.5708,-4.7124]}},"theta2":{"field":"a2"},"radius":{"field":"ro","type":"quantitative","scale":{"type":"linear","domain":[0,85],"range":[0,54.5]}},"radius2":{"field":"ri"},"fill":{"field":"v","type":"quantitative","legend":null}}},
{"data":{"name":"heat"},"transform":[{"calculate":"CX[datum.b]","as":"px"},{"calculate":"CY[datum.d]","as":"py"},{"calculate":"datum.r===0?0:datum.r-1.5","as":"ri"},{"calculate":"datum.r2===85?85:datum.r2-1.5","as":"ro"}],"mark":{"type":"arc","opacity":0.2},"encoding":{"theta":{"field":"a","type":"quantitative","stack":null,"scale":{"domain":[0,360],"range":[1.5708,-4.7124]}},"theta2":{"field":"a2"},"radius":{"field":"ro","type":"quantitative","scale":{"type":"linear","domain":[0,85],"range":[0,54.5]}},"radius2":{"field":"ri"},"fill":{"field":"v","type":"quantitative","legend":null}}},
{"data":{"values":[{"a":0},{"a":30},{"a":60},{"a":90},{"a":120},{"a":150},{"a":180},{"a":210},{"a":240},{"a":270},{"a":300},{"a":330}]},"transform":[{"calculate":"[165,169,174,178]","as":"d"},{"flatten":["d"]},{"calculate":"[3,4,1]","as":"b"},{"flatten":["b"]},{"calculate":"CX[datum.b]","as":"px"},{"calculate":"CY[datum.d]","as":"py"},{"calculate":"datum.px+54.5*cos(datum.a*PI/180)","as":"px2"},{"calculate":"datum.py-54.5*sin(datum.a*PI/180)","as":"py2"}],"mark":{"type":"rule","stroke":"#000000","strokeWidth":0.5},"encoding":{"x2":{"field":"px2"},"y2":{"field":"py2"}}},
{"data":{"values":[{"r":10},{"r":20},{"r":30},{"r":40},{"r":50},{"r":60},{"r":70},{"r":80},{"r":85}]},"transform":[{"calculate":"[165,169,174,178]","as":"d"},{"flatten":["d"]},{"calculate":"[3,4,1]","as":"b"},{"flatten":["b"]},{"calculate":"CX[datum.b]","as":"px"},{"calculate":"CY[datum.d]","as":"py"},{"calculate":"0","as":"a"},{"calculate":"360","as":"a2"}],"mark":{"type":"arc","fill":"transparent","stroke":"#000000","strokeWidth":0.6},"encoding":{"theta":{"field":"a","type":"quantitative","stack":null,"scale":{"domain":[0,360],"range":[1.5708,-4.7124]}},"theta2":{"field":"a2"},"radius":{"field":"r","type":"quantitative","scale":{"type":"linear","domain":[0,85],"range":[0,54.5]}},"strokeOpacity":{"condition":{"test":"datum.r===85","value":0.35},"value":1}}},
{"data":{"values":[{"r":10},{"r":20},{"r":30},{"r":40},{"r":50},{"r":60},{"r":70},{"r":80}]},"transform":[{"calculate":"[165,169,174,178]","as":"d"},{"flatten":["d"]},{"calculate":"[3,4,1]","as":"b"},{"flatten":["b"]},{"calculate":"CX[datum.b]+KR*datum.r*cos(22.5*PI/180)","as":"px"},{"calculate":"CY[datum.d]-KR*datum.r*sin(22.5*PI/180)","as":"py"}],"mark":{"type":"text","font":"DejaVu Sans","fontSize":3,"angle":337.5,"fill":"#333333","align":"center","baseline":"middle"},"encoding":{"text":{"field":"r","type":"nominal"}}},
{"data":{"values":[{"a":0,"lab":"0°"},{"a":30,"lab":"30°"},{"a":60,"lab":"60°"},{"a":90,"lab":"90°"},{"a":120,"lab":"120°"},{"a":150,"lab":"150°"},{"a":180,"lab":"180°"},{"a":210,"lab":"210°"},{"a":240,"lab":"240°"},{"a":270,"lab":"270°"},{"a":300,"lab":"300°"},{"a":330,"lab":"330°"}]},"transform":[{"calculate":"[165,169,174,178]","as":"d"},{"flatten":["d"]},{"calculate":"[3,4,1]","as":"b"},{"flatten":["b"]},{"calculate":"CX[datum.b]+60*cos(datum.a*PI/180)","as":"px"},{"calculate":"CY[datum.d]-60*sin(datum.a*PI/180)","as":"py"}],"mark":{"type":"text","font":"DejaVu Sans","fontSize":5,"fill":"#222222","align":"center","baseline":"middle"},"encoding":{"text":{"field":"lab","type":"nominal"}}},
{"data":{"name":"iss"},"transform":[{"calculate":"[3,4,1]","as":"b"},{"flatten":["b"]},{"calculate":"CX[datum.b]+KR*datum.r*cos(datum.a*PI/180)","as":"px"},{"calculate":"CY[datum.d]-KR*datum.r*sin(datum.a*PI/180)","as":"py"},{"calculate":"datum.d+'-'+datum.b+'-'+datum.t","as":"trk"}],"mark":{"type":"line","stroke":"#ffffff","strokeWidth":0.7},"encoding":{"detail":{"field":"trk","type":"nominal"},"order":{"field":"i","type":"quantitative"}}},
{"data":{"name":"iss"},"transform":[{"calculate":"[3,4,1]","as":"b"},{"flatten":["b"]},{"calculate":"CX[datum.b]+KR*datum.r*cos(datum.a*PI/180)","as":"px"},{"calculate":"CY[datum.d]-KR*datum.r*sin(datum.a*PI/180)","as":"py"}],"mark":{"type":"circle","fill":"#ffffff","size":4,"opacity":1}},
{"data":{"name":"modis"},"transform":[{"calculate":"[3,4,1]","as":"b"},{"flatten":["b"]},{"calculate":"CX[datum.b]+KR*datum.r*cos(datum.a*PI/180)","as":"px"},{"calculate":"CY[datum.d]-KR*datum.r*sin(datum.a*PI/180)","as":"py"}],"mark":{"type":"circle","fill":"#ff0000","size":18,"opacity":1}},
{"data":{"name":"cbar"},"transform":[{"calculate":"[165,169,174,178]","as":"d"},{"flatten":["d"]},{"calculate":"[3,4,1]","as":"b"},{"flatten":["b"]},{"calculate":"BX[datum.b]","as":"px"},{"calculate":"datum.px+6","as":"px2"},{"calculate":"CY[datum.d]+54.5-10.9*datum.v","as":"py"},{"calculate":"CY[datum.d]+54.5-10.9*datum.v2","as":"py2"},{"calculate":"(datum.v+datum.v2)/2","as":"m"}],"mark":{"type":"rect","strokeWidth":0.3},"encoding":{"x2":{"field":"px2"},"y2":{"field":"py2"},"fill":{"field":"m","type":"quantitative","legend":null},"stroke":{"field":"m","type":"quantitative","legend":null}}},
{"data":{"values":[{"v":0},{"v":1},{"v":2},{"v":3},{"v":4},{"v":5},{"v":6},{"v":7},{"v":8},{"v":9},{"v":10}]},"transform":[{"calculate":"[165,169,174,178]","as":"d"},{"flatten":["d"]},{"calculate":"[3,4,1]","as":"b"},{"flatten":["b"]},{"calculate":"BX[datum.b]+7.5","as":"px"},{"calculate":"CY[datum.d]+54.5-10.9*datum.v","as":"py"}],"mark":{"type":"text","font":"DejaVu Sans","fontSize":5,"fill":"#222222","align":"left","baseline":"middle"},"encoding":{"text":{"field":"v","type":"nominal"}}},
{"data":{"values":[{"lab":"Percent difference"}]},"transform":[{"calculate":"[165,169,174,178]","as":"d"},{"flatten":["d"]},{"calculate":"[3,4,1]","as":"b"},{"flatten":["b"]},{"calculate":"BX[datum.b]+17","as":"px"},{"calculate":"CY[datum.d]","as":"py"}],"mark":{"type":"text","font":"DejaVu Sans","fontSize":5,"fill":"#222222","angle":270,"align":"center","baseline":"middle"},"encoding":{"text":{"field":"lab","type":"nominal"}}},
{"data":{"values":[{"b":3,"lab":"Band 3"},{"b":4,"lab":"Band 4"},{"b":1,"lab":"Band 1"}]},"transform":[{"calculate":"[165,169,174,178]","as":"d"},{"flatten":["d"]},{"calculate":"TX[datum.b]","as":"px"},{"calculate":"CY[datum.d]-71","as":"py"}],"mark":{"type":"text","font":"Liberation Serif","fontSize":9.5,"fill":"#111111","align":"center","baseline":"middle"},"encoding":{"text":{"field":"lab","type":"nominal"}}},
{"data":{"values":[{"d":165,"lab":"DOY165 (06/14/2014)"},{"d":169,"lab":"DOY169 (06/18/2014)"},{"d":174,"lab":"DOY174 (06/23/2014)"},{"d":178,"lab":"DOY178 (06/27/2014)"}]},"transform":[{"calculate":"5","as":"px"},{"calculate":"CY[datum.d]-83.5","as":"py"}],"mark":{"type":"text","font":"Liberation Serif","fontSize":9.7,"fill":"#111111","align":"left","baseline":"middle"},"encoding":{"text":{"field":"lab","type":"nominal"}}},
{"data":{"values":[{"name":"legend"}]},"transform":[{"calculate":"406","as":"px"},{"calculate":"509","as":"px2"},{"calculate":"0","as":"py"},{"calculate":"29.5","as":"py2"}],"mark":{"type":"rect","fill":"#c8c8c8","stroke":"#666666","strokeWidth":1},"encoding":{"x2":{"field":"px2"},"y2":{"field":"py2"}}},
{"data":{"values":[{"name":"ISS Position"}]},"transform":[{"calculate":"408","as":"px"},{"calculate":"428","as":"px2"},{"calculate":"22","as":"py"}],"mark":{"type":"rule","stroke":"#ffffff","strokeWidth":2},"encoding":{"x2":{"field":"px2"}}},
{"data":{"values":[{"name":"MODIS Position"}]},"transform":[{"calculate":"418","as":"px"},{"calculate":"8.3","as":"py"}],"mark":{"type":"circle","fill":"#ff0000","size":80,"opacity":1}},
{"data":{"values":[{"name":"ISS Position"}]},"transform":[{"calculate":"418","as":"px"},{"calculate":"22","as":"py"}],"mark":{"type":"point","fill":"#ffffff","stroke":"#000000","strokeWidth":0.7,"size":80,"opacity":1,"filled":false}},
{"data":{"values":[{"name":"MODIS Position","i":0},{"name":"ISS Position","i":1}]},"transform":[{"calculate":"426.8","as":"px"},{"calculate":"8.3+13.7*datum.i","as":"py"}],"mark":{"type":"text","font":"Liberation Sans","fontSize":8,"fill":"#222222","align":"left","baseline":"middle"},"encoding":{"text":{"field":"name","type":"nominal"}}}
]}
